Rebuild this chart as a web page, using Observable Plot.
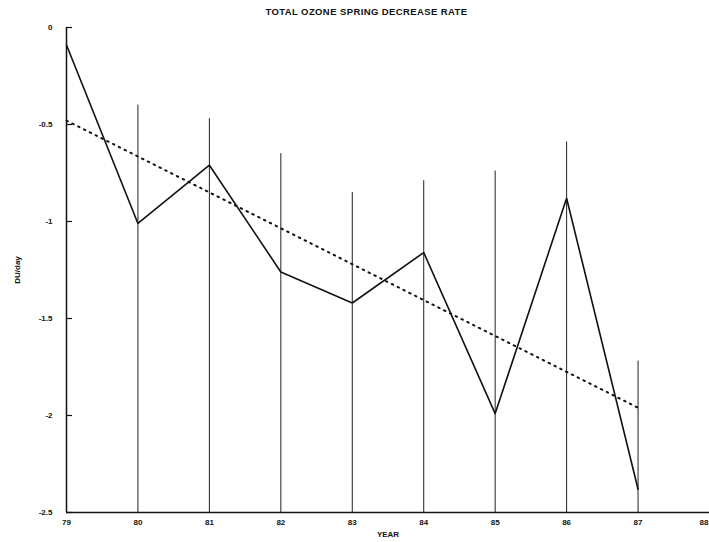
<!DOCTYPE html>
<html>
<head>
<meta charset="utf-8">
<script src="https://cdn.jsdelivr.net/npm/d3@7"></script>
<script src="https://cdn.jsdelivr.net/npm/@observablehq/plot@0.6"></script>
<style>
  html, body { margin: 0; padding: 0; background: #fff; }
  #wrap { position: relative; width: 709px; height: 542px; overflow: hidden; background: #fff; }
  #title { position: absolute; z-index: 2; top: 6px; left: 12px; width: 709px; text-align: center;
           font-family: "Liberation Sans", Arial, sans-serif; font-weight: bold; font-size: 9.5px;
           color: #111; letter-spacing: 0.4px; }
  svg { position: absolute; top: 0; left: 0; z-index: 1; }
</style>
</head>
<body>
<div id="wrap"><div id="title">TOTAL OZONE SPRING DECREASE RATE</div></div>
<script>
// Data
const years      = [79, 80, 81, 82, 83, 84, 85, 86, 87];
const rates      = [-0.09, -1.01, -0.71, -1.26, -1.42, -1.16, -1.99, -0.88, -2.38];
const errYears   = [80, 81, 82, 83, 84, 85, 86, 87];
const errTop     = [-0.40, -0.47, -0.65, -0.85, -0.79, -0.74, -0.59, -1.72];
const errBottom  = [-2.5, -2.5, -2.5, -2.5, -2.5, -2.5, -2.5, -2.5];
const trendYears = [79, 87];
const trendRates = [-0.48, -1.96];
const xTicks     = [79, 80, 81, 82, 83, 84, 85, 86, 87];
const xLastTick  = [88];
const yTicks     = [0, -0.5, -1, -1.5, -2, -2.5];

const series = years.map((y, i) => ({year: y, rate: rates[i]}));
const errs = errYears.map((y, i) => ({year: y, top: errTop[i], bottom: errBottom[i]}));
const trend = trendYears.map((y, i) => ({year: y, rate: trendRates[i]}));

const chart = Plot.plot({
  width: 709,
  height: 542,
  marginLeft: 66,
  marginRight: 0,
  marginTop: 27,
  marginBottom: 30,
  style: {fontFamily: "Liberation Sans, Arial, sans-serif", fontSize: "8px", fontWeight: "bold", color: "#111", background: "transparent"},
  x: {domain: [79, 88]},
  y: {domain: [-2.5, 0]},
  marks: [
    Plot.ruleX(errs, {x: "year", y1: "top", y2: "bottom", stroke: "#222", strokeWidth: 1}),
    Plot.line(trend, {x: "year", y: "rate", stroke: "#111", strokeWidth: 2, strokeDasharray: "1.5,5", strokeLinecap: "round"}),
    Plot.line(series, {x: "year", y: "rate", stroke: "#111", strokeWidth: 1.6}),
    Plot.ruleY([-2.5], {stroke: "#111", strokeWidth: 1.5}),
    Plot.ruleX([79], {stroke: "#111", strokeWidth: 1.5}),
    Plot.axisY({ticks: yTicks, tickSize: 0, tickPadding: 14, tickFormat: d => String(d),
                label: "DU/day", labelAnchor: "center", labelArrow: "none", labelOffset: 52}),
    Plot.axisY({ticks: yTicks, tickSize: -6, text: null, label: null, strokeWidth: 1.2}),
    Plot.axisX({ticks: xTicks, tickSize: 0, tickPadding: 7, tickFormat: d => String(d),
                label: "YEAR", labelAnchor: "center", labelArrow: "none", labelOffset: 24}),
    Plot.axisX({ticks: xLastTick, tickSize: 0, tickPadding: 7, tickFormat: d => String(d),
                textAnchor: "end", dx: -1, label: null})
  ]
});
document.getElementById("wrap").appendChild(chart);
</script>
</body>
</html>
